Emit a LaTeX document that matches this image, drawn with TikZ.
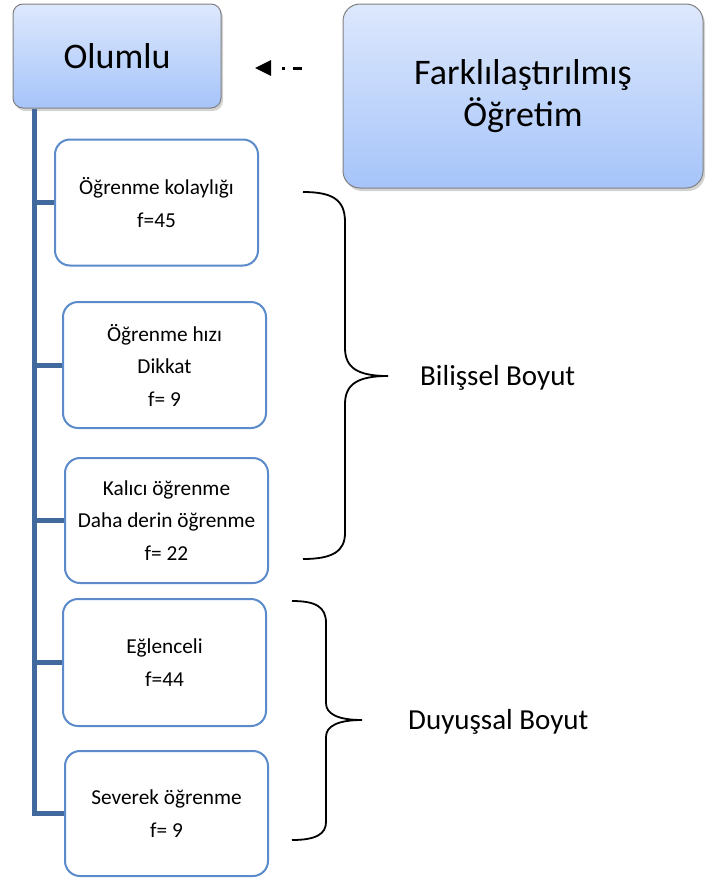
\documentclass[tikz,border=0pt]{standalone}
\usepackage{fontspec}
\setmainfont{Carlito}
\usetikzlibrary{arrows.meta,shadows}
\definecolor{boxtop}{HTML}{DDE8FC}
\definecolor{boxbot}{HTML}{A6C4FA}
\definecolor{itemline}{HTML}{5B8BCB}
\definecolor{trunkblue}{HTML}{41699D}
\tikzset{
  head/.style={draw=black!50, line width=1pt, rounded corners=10pt, top color=boxtop, bottom color=boxbot,
    drop shadow={shadow xshift=2pt, shadow yshift=-3pt, opacity=0.35}, align=center, inner sep=0pt,
    font=\fontsize{36}{40}\selectfont},
  item/.style={draw=itemline, line width=2pt, rounded corners=15pt, fill=white, minimum width=203pt,
    minimum height=126pt, align=center, inner sep=0pt, font=\fontsize{21.3}{32.5}\selectfont},
  trunk/.style={draw=trunkblue, line width=5pt},
  curly/.style={line width=1.8pt},
  lbl/.style={anchor=west, inner sep=0pt, font=\fontsize{29}{35}\selectfont}
}

\begin{document}
\begin{tikzpicture}[x=1pt, y=-1pt]
   \useasboundingbox (0,0) rectangle (705,878);
   \node[head, minimum width=208pt, minimum height=104pt] (olumlu) at (117,56) {Olumlu};
   \node[head, minimum width=360pt, minimum height=184pt, rounded corners=17pt] (fark) at (523,96) {Farklılaştırılmış\\[2pt]Öğretim};
   \node[item] (b1) at (156.5,202.5) {Öğrenme kolaylığı\\f=45};
   \node[item] (b2) at (164.5,365) {Öğrenme hızı\\Dikkat\\f= 9};
   \node[item, minimum height=125pt] (b3) at (166.5,520.5) {Kalıcı öğrenme\\Daha derin öğrenme\\f= 22};
   \node[item, minimum height=127pt] (b4) at (164.5,662.5) {Eğlenceli\\f=44};
   \node[item, minimum height=125pt] (b5) at (166.5,813.5) {Severek öğrenme\\f= 9};
   \node[lbl] (bilissel) at (420,378) {Bilişsel Boyut};
   \node[lbl] (duyussal) at (408,722) {Duyuşsal Boyut};
   \coordinate (t0) at ([xshift=22pt]olumlu.south west);
   \coordinate (a1) at (302,68);
   \coordinate (a0) at (255,68);
    \draw[trunk] (t0) |- (b5.west);
    \draw[trunk] (b1.west -| t0) -- (b1.west);
    \draw[trunk] (b2.west -| t0) -- (b2.west);
    \draw[trunk] (b3.west -| t0) -- (b3.west);
    \draw[trunk] (b4.west -| t0) -- (b4.west);
    \draw[-{Triangle[length=16pt,width=15pt]}, line width=3pt, dash pattern=on 9pt off 8pt on 3pt off 12pt] (a1) -- (a0);
    \draw[curly] (303,192) .. controls (333,192) and (345,200) .. (345,222) -- (345,348)
      .. controls (345,368) and (358,376) .. (388,376) .. controls (358,376) and (345,384) .. (345,404)
      -- (345,533) .. controls (345,551) and (333,559) .. (303,559);
    \draw[curly] (292,601) .. controls (316,601) and (326,607) .. (326,623) -- (326,703)
      .. controls (326,714) and (338,720) .. (362,720) .. controls (338,720) and (326,726) .. (326,737)
      -- (326,822) .. controls (326,834) and (316,840) .. (292,840);
\end{tikzpicture}
\end{document}
